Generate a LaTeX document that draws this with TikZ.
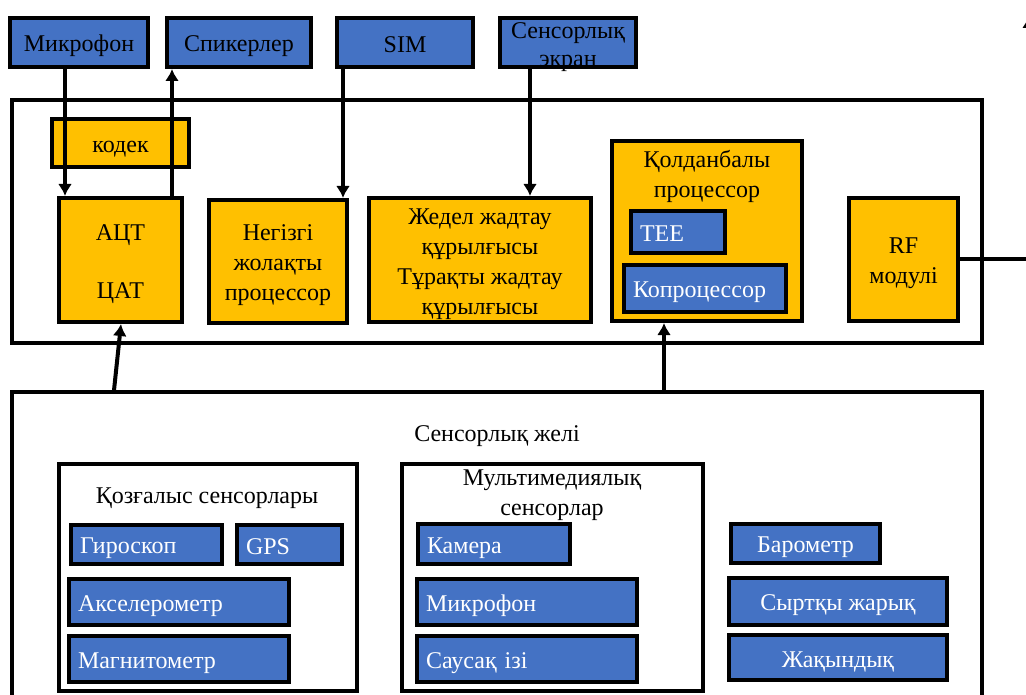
\documentclass[tikz,border=0pt]{standalone}
\usepackage{fontspec}
\setmainfont{Liberation Serif}
\usetikzlibrary{arrows.meta}
\definecolor{boxblue}{HTML}{4472C4}
\definecolor{boxgold}{HTML}{FFC000}
\newcommand{\LineStrut}{\rule[-0.2em]{0pt}{1.2em}}

\begin{document}
\begin{tikzpicture}[x=1pt, y=-1pt,
  font=\fontsize{24}{30}\selectfont,
  every node/.style={align=center, execute at begin node=\LineStrut, execute at end node=\LineStrut},
  gold/.style={draw, line width=4, fill=boxgold, inner sep=2},
  topbox/.style={draw, line width=4, fill=boxblue, inner sep=2},
  sensor/.style={draw, line width=4, fill=boxblue, text=white, inner sep=2},
  sensorl/.style={sensor, align=left, inner xsep=9, text width=#1},
  frame/.style={draw, line width=3.5},
  link/.style={line width=4, -{Latex[length=12pt,width=14pt]}}]

\clip (0,0) rectangle (1026,695);

% outside parts
\node [topbox, minimum width=138, minimum height=49] (mic) at (79,42.5) {Микрофон};
\node [topbox, minimum width=144, minimum height=49] (spk) at (239,42.5) {Спикерлер};
\node [topbox, minimum width=136, minimum height=49] (sim) at (405,42.5) {SIM};
\node [topbox, minimum width=136, minimum height=49] (scr) at (568,42.5) {};
\node (scrtext) at (568,43) {\LineStrut Сенсорлық\\[-2pt]экран};

% the phone itself
\node [frame, minimum width=970, minimum height=243] (phone) at (497,221.5) {};
\node [gold, minimum width=137, minimum height=48] (codec) at (120.5,143) {кодек};
\node [gold, minimum width=123, minimum height=124] (adc) at (120.5,260) {\LineStrut АЦТ\\[28pt]ЦАТ};
\node [gold, minimum width=138, minimum height=123] (bb) at (278,261.5) {\LineStrut Негізгі\\жолақты\\процессор};
\node [gold, minimum width=222, minimum height=124] (mem) at (480,260) {\LineStrut Жедел жадтау\\құрылғысы\\Тұрақты жадтау\\құрылғысы};
\node [gold, minimum width=190, minimum height=180] (ap) at (707,231) {};
\node (aptitle) at (707,173) {\LineStrut Қолданбалы\\процессор};
\node [sensorl=76, minimum height=42] (tee) at (678,232) {TEE};
\node [sensorl=144, minimum height=47] (cop) at (705,288.5) {Копроцессор};
\node [gold, minimum width=109, minimum height=123] (rf) at (903.5,259.5) {\LineStrut RF\\модулі};
\coordinate (antenna) at (1029,16);

% sensors
\node [frame, minimum width=970, minimum height=318] (sens) at (497,551) {};
\node (senstitle) at (497,432) {Сенсорлық желі};

\node [frame, line width=4, minimum width=298, minimum height=227] (motion) at (207.5,577) {};
\node (motiontitle) at (207,494) {Қозғалыс сенсорлары};
\node [sensorl=133, minimum height=39] (gyro) at (146.5,544.5) {Гироскоп};
\node [sensorl=87, minimum height=39] (gps) at (289.5,544.5) {GPS};
\node [sensorl=202, minimum height=46] (accel) at (179,602) {Акселерометр};
\node [sensorl=202, minimum height=46] (magn) at (179,659) {Магнитометр};

\node [frame, line width=4, minimum width=301, minimum height=227] (media) at (552,577) {};
\node (mediatitle) at (552,491) {\LineStrut Мультимедиялық\\сенсорлар};
\node [sensorl=134, minimum height=40] (cam) at (494,544) {Камера};
\node [sensorl=202, minimum height=46] (mic2) at (527,602) {Микрофон};
\node [sensorl=202, minimum height=46] (finger) at (527,659) {Саусақ ізі};

\node [sensor, minimum width=149, minimum height=39] (baro) at (805.5,543.5) {Барометр};
\node [sensor, minimum width=218, minimum height=47] (light) at (838,601.5) {Сыртқы жарық};
\node [sensor, minimum width=218, minimum height=45] (prox) at (838,657.5) {Жақындық};

% links
\draw [link] (65,0 |- mic.south) -- (65,0 |- adc.north);
\draw [link] (172,0 |- adc.north) -- (172,0 |- spk.south);
\draw [link] (343,0 |- sim.south) -- (343,0 |- bb.north);
\draw [link] (530,0 |- scr.south) -- (530,0 |- mem.north);
\draw [link] (114,0 |- sens.north) -- (121,0 |- adc.south);
\draw [link] (664,0 |- sens.north) -- (664,0 |- ap.south);
\draw [link] (rf.east) -- (rf.east -| antenna) -- (antenna);

\end{tikzpicture}
\end{document}
